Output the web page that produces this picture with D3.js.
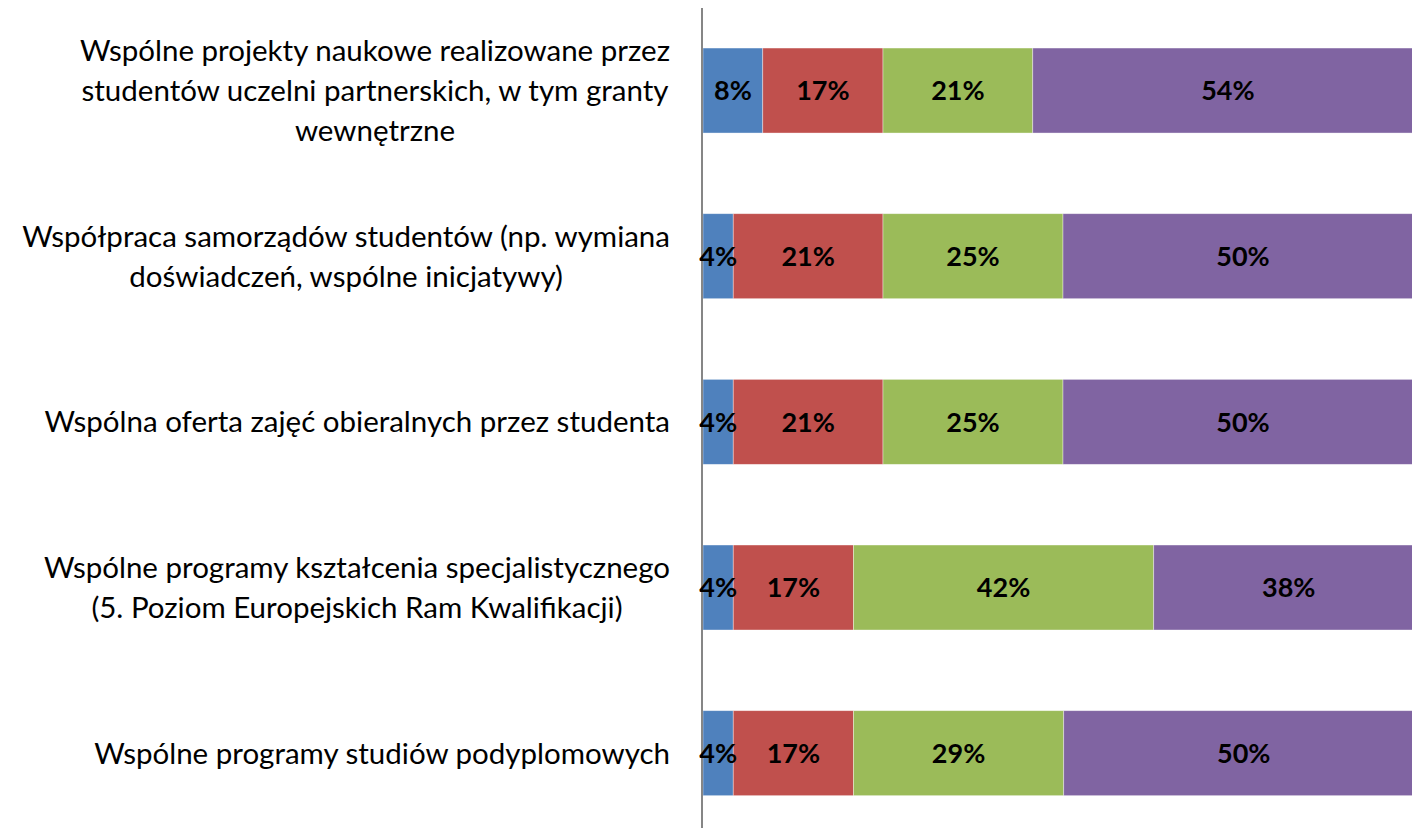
<!DOCTYPE html>
<html>
<head>
<meta charset="utf-8">
<script src="https://cdn.jsdelivr.net/npm/d3@7"></script>
<style>
  body { margin: 0; background: #fff; }
  text { font-family: Lato, "Open Sans", sans-serif; }
</style>
</head>
<body>
<script>
// chart size
var width = 1412, height = 828;

// categories (top to bottom), each split in lines as in the picture
var categories = [
  ["Wspólne projekty naukowe realizowane przez", "studentów uczelni partnerskich, w tym granty", "wewnętrzne"],
  ["Współpraca samorządów studentów (np. wymiana", "doświadczeń, wspólne inicjatywy)"],
  ["Wspólna oferta zajęć obieralnych przez studenta"],
  ["Wspólne programy kształcenia specjalistycznego", "(5. Poziom Europejskich Ram Kwalifikacji)"],
  ["Wspólne programy studiów podyplomowych"]
];

// series values in %, one array per series (same order as categories)
var s1 = [8.3, 4.2, 4.2, 4.2, 4.2];
var s2 = [16.7, 20.8, 20.8, 16.7, 16.7];
var s3 = [20.8, 25.0, 25.0, 41.7, 29.2];
var s4 = [54.2, 50.0, 50.0, 37.5, 50.0];

var series = [s1, s2, s3, s4];
var colors = ["#4F81BD", "#C0504D", "#9BBB59", "#8064A2"];

var svg = d3.select("body").append("svg")
  .attr("width", width)
  .attr("height", height);

var x = d3.scaleLinear().domain([0, 100]).range([703, 1423]);
var y = d3.scaleBand().domain(d3.range(categories.length)).range([7.7, 836]).paddingInner(0.487).paddingOuter(0.2435);

// build stacked rows
var rows = categories.map(function(c, i) {
  var acc = 0;
  return series.map(function(s, k) {
    var d = { row: i, k: k, x0: acc, x1: acc + s[i], v: s[i] };
    acc += s[i];
    return d;
  });
});
var segs = d3.merge(rows);

svg.selectAll("rect.seg").data(segs).enter().append("rect")
  .attr("class", "seg")
  .attr("x", function(d) { return x(d.x0); })
  .attr("y", function(d) { return y(d.row); })
  .attr("width", function(d) { return x(d.x1) - x(d.x0); })
  .attr("height", y.bandwidth())
  .attr("fill", function(d) { return colors[d.k]; })
  .attr("stroke", "#fff")
  .attr("stroke-opacity", 0.5)
  .attr("stroke-width", 0.75);

// vertical axis line (under the value labels)
svg.append("line")
  .attr("x1", 702).attr("x2", 702)
  .attr("y1", 8).attr("y2", height)
  .attr("stroke", "#868686")
  .attr("stroke-width", 2);

svg.selectAll("text.val").data(segs).enter().append("text")
  .attr("class", "val")
  .attr("x", function(d) { return (x(d.x0) + x(d.x1)) / 2; })
  .attr("y", function(d) { return y(d.row) + y.bandwidth() / 2; })
  .attr("dy", "0.36em")
  .attr("text-anchor", "middle")
  .attr("font-size", 27)
  .attr("font-weight", "bold")
  .attr("fill", "#000")
  .text(function(d) { return Math.round(d.v) + "%"; });

// category labels: lines centered on the block, block right edge at 670
var lineH = 40;
categories.forEach(function(lines, i) {
  var g = svg.append("g");
  var cy = y(i) + y.bandwidth() / 2;
  var t = g.selectAll("text").data(lines).enter().append("text")
    .attr("font-size", 29.5)
    .attr("fill", "#000")
    .attr("text-anchor", "middle")
    .attr("y", function(d, j) { return cy + (j - (lines.length - 1) / 2) * lineH; })
    .attr("dy", "0.36em")
    .text(function(d) { return d; });
  var maxW = d3.max(t.nodes(), function(n) { return n.getComputedTextLength(); });
  t.attr("x", 670 - maxW / 2);
});
</script>
</body>
</html>
